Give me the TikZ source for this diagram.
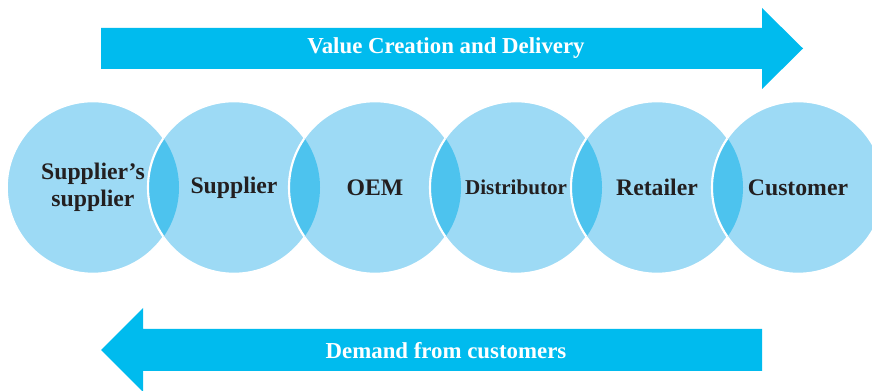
\documentclass[tikz,border=0pt]{standalone}
\usepackage{fontspec}
\setmainfont{Liberation Serif}
\usepackage{tikz}
\usetikzlibrary{shapes,arrows}

\definecolor{flowblue}{RGB}{0,187,238}
\definecolor{stagefill}{RGB}{157,218,245}
\definecolor{overlapfill}{RGB}{77,195,238}
\definecolor{labelgray}{RGB}{35,31,32}

\begin{document}
\begin{tikzpicture}[x=0.02cm,y=-0.02cm]
\tikzstyle{stage}=[circle,fill=stagefill,draw=white,line width=0.9pt,minimum size=3.44cm,inner sep=0pt,
  align=center,text=labelgray,font=\fontsize{13.5}{15.5}\selectfont\bfseries]
\tikzstyle{flow}=[fill=flowblue]
\tikzstyle{flowlabel}=[text=white,font=\fontsize{13}{15}\selectfont\bfseries]
\useasboundingbox (0,0) rectangle (872,391);
% arrows
\fill[flow] (101,28) -- (762,28) -- (762,8) -- (803,48.5) -- (762,89) -- (762,69) -- (101,69) -- cycle;
\fill[flow] (762,329) -- (143,329) -- (143,308) -- (101,350) -- (143,392) -- (143,371) -- (762,371) -- cycle;
\node[flowlabel] (value) at (446,48) {Value Creation and Delivery};
\node[flowlabel] (demand) at (446,351) {Demand from customers};
% stages
\node[stage] (s1) at (93,187.5) {Supplier’s\\supplier};
\node[stage] (s2) at (234,187.5) {Supplier};
\node[stage] (s3) at (375,187.5) {OEM};
\node[stage,font=\fontsize{12}{14}\selectfont\bfseries] (s4) at (516,187.5) {Distributor};
\node[stage] (s5) at (657,187.5) {Retailer};
\node[stage] (s6) at (798,187.5) {Customer};
% overlaps
\foreach \a/\b in {s1/s2,s2/s3,s3/s4,s4/s5,s5/s6}{
  \begin{scope}
    \clip (\a.center) circle[radius=86];
    \fill[overlapfill] (\b.center) circle[radius=86];
    \draw[white,line width=1.2pt] (\b.center) circle[radius=86];
  \end{scope}
}
\end{tikzpicture}
\end{document}
